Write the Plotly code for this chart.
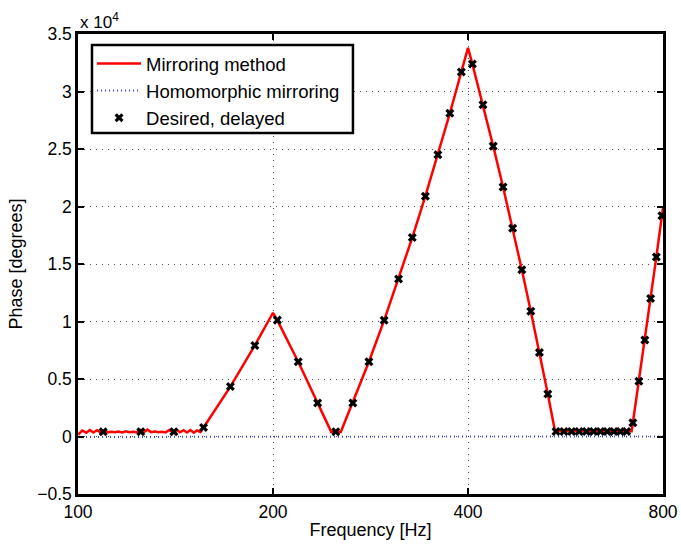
import plotly.graph_objects as go

# ---- data ----
# Mirroring method (red line): frequency [Hz] and phase [degrees]
mirror_f = [100, 101.5, 103, 104.3, 105.6, 107, 108.4, 109.8, 111.2, 112.6, 114,
            115.5, 117, 118.5, 120, 121.6, 123.2, 124.8, 126.4, 128, 129.7, 131.4,
            133.1, 134.8, 136.5, 138.3, 140.1, 141.9, 143.7, 145.5, 147.3, 149.1,
            150.9, 152.7, 154.6,
            156.25, 171.875, 187.5, 200, 203.125, 218.75, 234.375, 246, 254.5,
            265.625, 281.25, 296.875, 312.5, 328.125, 343.75, 359.375, 375, 390.625,
            400, 406.25, 421.875, 437.5, 453.125, 468.75, 484.375, 500, 515.625,
            531.25, 545, 560, 580, 600, 620, 640, 660, 680, 700, 715.5,
            718.75, 734.375, 750, 765.625, 781.25, 796.875, 800]
mirror_v = [150, 520, 330, 560, 350, 540, 360, 530, 380, 420, 380,
            430, 360, 450, 380, 420, 370, 560, 390, 600, 380, 430,
            370, 420, 360, 560, 380, 590, 360, 540, 350, 560,
            330, 520, 400,
            780, 4340, 7920, 10760, 10100, 6500, 2920, 400, 400,
            3000, 6500, 10100, 13700, 17300, 20900, 24500, 28100, 31700,
            33800, 32400, 28850, 25250, 21700, 18100, 14500, 10900, 7300,
            3700, 450, 470, 440, 460, 440, 470, 440, 460, 440, 450,
            1200, 4800, 8400, 12000, 15600, 19200, 19900]

# Homomorphic mirroring (blue dotted line)
homo_f = [100, 200, 300, 400, 500, 600, 700, 800]
homo_v = [-40, -30, -20, 0, 20, 30, 20, 10]

# Desired, delayed (black x markers) at k * 15.625 Hz, k = 7..51
desired_f = [k * 15.625 for k in range(7, 52)]
desired_v = [410, 410, 410, 780, 4340, 7920, 10120, 6500, 2920, 410,
             2920, 6500, 10100, 13700, 17300, 20900, 24500, 28100, 31700, 32400,
             28850, 25250, 21700, 18100, 14500, 10900, 7300, 3700,
             430, 430, 430, 430, 430, 430, 430, 430, 430, 430, 430,
             1200, 4800, 8400, 12000, 15600, 19200]

x_ticks = [100, 200, 400, 800]
x_ticktext = ["100", "200", "400", "800"]
y_ticks = [-5000, 0, 5000, 10000, 15000, 20000, 25000, 30000, 35000]
y_ticktext = ["\u22120.5", "0", "0.5", "1", "1.5", "2", "2.5", "3", "3.5"]

FONT = "Liberation Sans, Arial, Helvetica, sans-serif"

fig = go.Figure()
fig.add_trace(go.Scatter(x=mirror_f, y=mirror_v, mode="lines", name="Mirroring method",
                         legendgroup="a",
                         line=dict(color="#ff0000", width=2.5)))
fig.add_trace(go.Scatter(x=homo_f, y=homo_v, mode="lines", name="Homomorphic mirroring",
                         legendgroup="b",
                         line=dict(color="#3344ff", width=2, dash="1px,3px")))
fig.add_trace(go.Scatter(x=desired_f, y=desired_v, mode="markers", name="Desired, delayed",
                         legendgroup="c",
                         marker=dict(symbol="x", size=8, color="black",
                                     line=dict(width=0))))

fig.update_layout(
    width=681, height=544,
    margin=dict(l=78, r=18, t=34, b=50, autoexpand=False),
    paper_bgcolor="white", plot_bgcolor="white",
    font=dict(family=FONT, size=17, color="black"),
    showlegend=True,
    legend=dict(x=0.024, y=0.976, xanchor="left", yanchor="top",
                bgcolor="rgba(0,0,0,0)", borderwidth=0,
                itemwidth=44,
                font=dict(size=18.5, family=FONT), tracegroupgap=0),
    shapes=[dict(type="rect", xref="paper", yref="paper",
                 x0=0.0239, x1=0.470, y0=0.7848, y1=0.976,
                 fillcolor="white", line=dict(color="black", width=2.5),
                 layer="above")],
    annotations=[dict(text="x 10<sup>4</sup>", xref="paper", yref="paper",
                      x=0.0, y=1.0, xanchor="left", yanchor="bottom",
                      showarrow=False, font=dict(size=17, family=FONT))],
)
fig.update_xaxes(type="log", range=[2, 2.90309], tickvals=x_ticks, ticktext=x_ticktext,
                 automargin=False,
                 showline=True, mirror="ticks", linecolor="black", linewidth=2.5,
                 ticks="inside", ticklen=6, tickwidth=2, tickcolor="black",
                 showgrid=True, gridcolor="rgba(0,0,0,0.7)", griddash="1px,5px", gridwidth=1,
                 zeroline=False, tickfont=dict(size=17.5),
                 title=dict(text="Frequency [Hz]", standoff=3, font=dict(size=18)))
fig.update_yaxes(range=[-5000, 35000], tickvals=y_ticks, ticktext=y_ticktext,
                 automargin=False,
                 showline=True, mirror="ticks", linecolor="black", linewidth=2.5,
                 ticks="inside", ticklen=6, tickwidth=2, tickcolor="black",
                 showgrid=True, gridcolor="rgba(0,0,0,0.7)", griddash="1px,5px", gridwidth=1,
                 zeroline=False, tickfont=dict(size=17.5),
                 title=dict(text="Phase [degrees]", standoff=10, font=dict(size=18)))

fig.write_html("out.html")
